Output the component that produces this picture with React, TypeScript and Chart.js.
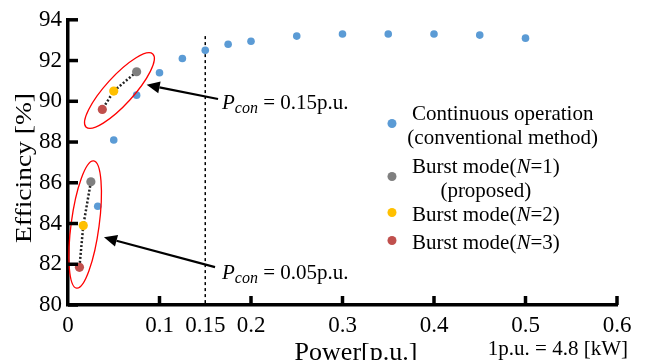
import { useEffect, useRef } from "react";
import { Chart, registerables } from "chart.js";

Chart.register(...registerables);

const FONT = "'Liberation Serif', serif";
Chart.defaults.font.family = FONT;

// ---- data ----
const seriesNames = [
  "Continuous operation\n(conventional method)",
  "Burst mode(N=1)\n(proposed)",
  "Burst mode(N=2)",
  "Burst mode(N=3)",
];
const seriesColors = ["#5B9BD5", "#7F7F7F", "#FFC000", "#C0504D"];

const continuousPower = [0.0325, 0.05, 0.075, 0.1, 0.125, 0.15, 0.175, 0.2, 0.25, 0.3, 0.35, 0.4, 0.45, 0.5];
const continuousEff = [84.85, 88.1, 90.3, 91.4, 92.1, 92.5, 92.8, 92.95, 93.2, 93.3, 93.3, 93.3, 93.25, 93.1];

// index 0: Pcon = 0.05 p.u., index 1: Pcon = 0.15 p.u.
const burstN1Power = [0.025, 0.075];
const burstN1Eff = [86.05, 91.45];
const burstN2Power = [0.0167, 0.05];
const burstN2Eff = [83.9, 90.5];
const burstN3Power = [0.0125, 0.0375];
const burstN3Eff = [81.85, 89.6];

const xTickLabels = [0, 0.1, 0.15, 0.2, 0.3, 0.4, 0.5, 0.6];
const xTickMarks = [0.1, 0.2, 0.3, 0.4, 0.5, 0.6];
const yMin = 80;
const yMax = 94;
const yStep = 2;

const pconLimit = 0.15;
const pconLimitTop = 93.2;

const annotationValues = [" = 0.05p.u.", " = 0.15p.u."];
const annotationTextX = [0.1683, 0.1683];
const annotationTextY = [81.3, 89.64];
const arrowTailX = [0.1607, 0.164];
const arrowTailY = [81.86, 90.11];
const arrowTipX = [0.0393, 0.086];
const arrowTipY = [83.32, 90.81];

const yTitle = "Efficincy [%]";
const xTitle = "Power[p.u.]";
const unitNote = "1p.u. = 4.8 [kW]";

// ---- helpers ----
type Run = { text: string; italic?: boolean; sub?: boolean };

function drawRuns(ctx: CanvasRenderingContext2D, runs: Run[], x: number, y: number, size: number, align: "left" | "center" | "right") {
  const fontFor = (r: Run) => `${r.italic ? "italic " : ""}${r.sub ? Math.round(size * 0.74) : size}px ${FONT}`;
  let total = 0;
  const widths: number[] = [];
  for (const r of runs) {
    ctx.font = fontFor(r);
    const w = ctx.measureText(r.text).width;
    widths.push(w);
    total += w;
  }
  let cx = align === "center" ? x - total / 2 : align === "right" ? x - total : x;
  ctx.textAlign = "left";
  ctx.textBaseline = "alphabetic";
  runs.forEach((r, i) => {
    ctx.font = fontFor(r);
    ctx.fillText(r.text, cx, y + (r.sub ? size * 0.2 : 0));
    cx += widths[i];
  });
  return total;
}

function parseLine(line: string): Run[] {
  return line
    .split(/(N)(?==)/)
    .filter((s) => s.length > 0)
    .map((s) => (s === "N" ? { text: s, italic: true } : { text: s }));
}

function runsWidth(ctx: CanvasRenderingContext2D, runs: Run[], size: number) {
  let t = 0;
  for (const r of runs) {
    ctx.font = `${r.italic ? "italic " : ""}${size}px ${FONT}`;
    t += ctx.measureText(r.text).width;
  }
  return t;
}

const legendDotX = 392;
const legendTextLeft = 412;
const legendBaselines = [120, 173, 221, 249];
const legendLineHeight = 24;
const legendFont = 21;

const ellipsePad = [21, 24];
const ellipseMinor = 14;

const decorPlugin = {
  id: "decor",
  beforeDatasetsDraw(chart: any) {
    const { ctx, scales } = chart;
    const x = scales.x;
    const y = scales.y;
    ctx.save();
    ctx.strokeStyle = "#000";
    ctx.lineWidth = 1.5;
    ctx.setLineDash([3, 3]);
    const px = x.getPixelForValue(pconLimit);
    ctx.beginPath();
    ctx.moveTo(px, y.getPixelForValue(pconLimitTop));
    ctx.lineTo(px, y.getPixelForValue(yMin));
    ctx.stroke();
    ctx.restore();
  },
  afterDatasetsDraw(chart: any) {
    const { ctx, scales } = chart;
    const x = scales.x;
    const y = scales.y;
    ctx.save();
    // ellipses around burst clusters
    for (let i = 0; i < burstN1Power.length; i++) {
      const x1 = x.getPixelForValue(burstN1Power[i]);
      const y1 = y.getPixelForValue(burstN1Eff[i]);
      const x3 = x.getPixelForValue(burstN3Power[i]);
      const y3 = y.getPixelForValue(burstN3Eff[i]);
      const cx = (x1 + x3) / 2;
      const cy = (y1 + y3) / 2;
      const ang = Math.atan2(y1 - y3, x1 - x3);
      const a = Math.hypot(x1 - x3, y1 - y3) / 2 + ellipsePad[i];
      ctx.beginPath();
      ctx.ellipse(cx, cy, a, ellipseMinor, ang, 0, Math.PI * 2);
      ctx.strokeStyle = "#FF0000";
      ctx.lineWidth = 1.3;
      ctx.stroke();
    }
    // arrows
    for (let i = 0; i < arrowTailX.length; i++) {
      const tx = x.getPixelForValue(arrowTailX[i]);
      const ty = y.getPixelForValue(arrowTailY[i]);
      const hx = x.getPixelForValue(arrowTipX[i]);
      const hy = y.getPixelForValue(arrowTipY[i]);
      const ang = Math.atan2(hy - ty, hx - tx);
      const hl = 13;
      const hw = 6;
      const bx = hx - hl * Math.cos(ang);
      const by = hy - hl * Math.sin(ang);
      ctx.beginPath();
      ctx.moveTo(tx, ty);
      ctx.lineTo(bx, by);
      ctx.strokeStyle = "#000";
      ctx.lineWidth = 2.2;
      ctx.stroke();
      ctx.beginPath();
      ctx.moveTo(hx, hy);
      ctx.lineTo(bx + hw * Math.sin(ang), by - hw * Math.cos(ang));
      ctx.lineTo(bx - hw * Math.sin(ang), by + hw * Math.cos(ang));
      ctx.closePath();
      ctx.fillStyle = "#000";
      ctx.fill();
    }
    // annotation texts
    ctx.fillStyle = "#000";
    for (let i = 0; i < annotationValues.length; i++) {
      drawRuns(
        ctx,
        [
          { text: "P", italic: true },
          { text: "con", italic: true, sub: true },
          { text: annotationValues[i] },
        ],
        x.getPixelForValue(annotationTextX[i]),
        y.getPixelForValue(annotationTextY[i]),
        21,
        "left"
      );
    }
    ctx.restore();
  },
  afterDraw(chart: any) {
    const { ctx, scales, chartArea } = chart;
    const x = scales.x;
    const y = scales.y;
    ctx.save();
    // inside tick marks
    ctx.strokeStyle = "#000";
    ctx.lineWidth = 3.5;
    ctx.lineCap = "butt";
    for (let v = yMin; v <= yMax; v += yStep) {
      const py = y.getPixelForValue(v);
      ctx.beginPath();
      ctx.moveTo(chartArea.left, py);
      ctx.lineTo(chartArea.left + 10, py);
      ctx.stroke();
    }
    for (const v of xTickMarks) {
      const px = x.getPixelForValue(v);
      ctx.beginPath();
      ctx.moveTo(px, chartArea.bottom);
      ctx.lineTo(px, chartArea.bottom - 9);
      ctx.stroke();
    }
    // legend
    ctx.fillStyle = "#000";
    seriesNames.forEach((name, i) => {
      const lines = name.split("\n").map(parseLine);
      const firstW = runsWidth(ctx, lines[0], legendFont);
      const center = legendTextLeft + firstW / 2;
      const base = legendBaselines[i];
      let sum = 0;
      lines.forEach((runs, j) => {
        const by = base + j * legendLineHeight;
        sum += by;
        ctx.fillStyle = "#000";
        drawRuns(ctx, runs, center, by, legendFont, "center");
      });
      const dotY = sum / lines.length - 8.5;
      ctx.beginPath();
      ctx.arc(legendDotX, dotY, 4.5, 0, Math.PI * 2);
      ctx.fillStyle = seriesColors[i];
      ctx.fill();
    });
    // axis titles
    ctx.fillStyle = "#000";
    ctx.save();
    ctx.translate(25, 168);
    ctx.rotate(-Math.PI / 2);
    ctx.font = `24px ${FONT}`;
    const tw = ctx.measureText(yTitle).width;
    ctx.scale(150 / tw, 1);
    ctx.textAlign = "center";
    ctx.textBaseline = "middle";
    ctx.fillText(yTitle, 0, 0);
    ctx.restore();

    ctx.font = `26px ${FONT}`;
    ctx.textAlign = "center";
    ctx.textBaseline = "alphabetic";
    ctx.fillText(xTitle, 356, 360);

    ctx.font = `21px ${FONT}`;
    ctx.textAlign = "right";
    ctx.fillText(unitNote, 628, 355);
    ctx.restore();
  },
};

export default function App() {
  const ref = useRef<HTMLCanvasElement | null>(null);

  useEffect(() => {
    if (!ref.current) return;
    const pts = (xs: number[], ys: number[]) => xs.map((v, i) => ({ x: v, y: ys[i] }));
    const connectors = burstN1Power.map((_, i) => ({
      label: "connector" + i,
      data: [
        { x: burstN1Power[i], y: burstN1Eff[i] },
        { x: burstN2Power[i], y: burstN2Eff[i] },
        { x: burstN3Power[i], y: burstN3Eff[i] },
      ],
      showLine: true,
      borderColor: "#222",
      borderWidth: 2.5,
      borderDash: [2, 2],
      pointRadius: 0,
      fill: false,
    }));
    const chart = new Chart(ref.current, {
      type: "scatter",
      data: {
        datasets: [
          { label: seriesNames[3], data: pts(burstN3Power, burstN3Eff), backgroundColor: seriesColors[3], pointRadius: 4.6, borderWidth: 0 },
          { label: seriesNames[2], data: pts(burstN2Power, burstN2Eff), backgroundColor: seriesColors[2], pointRadius: 4.6, borderWidth: 0 },
          { label: seriesNames[1], data: pts(burstN1Power, burstN1Eff), backgroundColor: seriesColors[1], pointRadius: 4.6, borderWidth: 0 },
          { label: seriesNames[0], data: pts(continuousPower, continuousEff), backgroundColor: seriesColors[0], pointRadius: 3.8, borderWidth: 0 },
          ...connectors,
        ] as any,
      },
      options: {
        animation: false,
        responsive: false,
        devicePixelRatio: 1,
        layout: { padding: { top: 17, right: 34, left: 0, bottom: 0 } },
        plugins: { legend: { display: false }, tooltip: { enabled: false }, title: { display: false } },
        scales: {
          x: {
            type: "linear",
            min: 0,
            max: 0.6,
            afterBuildTicks(s: any) {
              s.ticks = xTickLabels.map((v) => ({ value: v }));
            },
            afterFit(s: any) {
              s.height = 55;
            },
            ticks: {
              autoSkip: false,
              maxRotation: 0,
              color: "#000",
              padding: 7,
              font: { family: FONT, size: 23 },
              callback: (v: any) => String(v),
            },
            grid: { display: false, drawTicks: false },
            border: { display: true, width: 3.5, color: "#000" },
          },
          y: {
            type: "linear",
            min: yMin,
            max: yMax,
            afterFit(s: any) {
              s.width = 68;
            },
            ticks: {
              stepSize: yStep,
              color: "#000",
              padding: 6,
              font: { family: FONT, size: 23 },
            },
            grid: { display: false, drawTicks: false },
            border: { display: true, width: 3.5, color: "#000" },
          },
        },
      } as any,
      plugins: [decorPlugin],
    });
    return () => chart.destroy();
  }, []);

  return (
    <div style={{ position: "absolute", left: 0, top: 0, width: 651, height: 360, background: "#fff" }}>
      <canvas ref={ref} width={651} height={360} style={{ display: "block" }} />
    </div>
  );
}
